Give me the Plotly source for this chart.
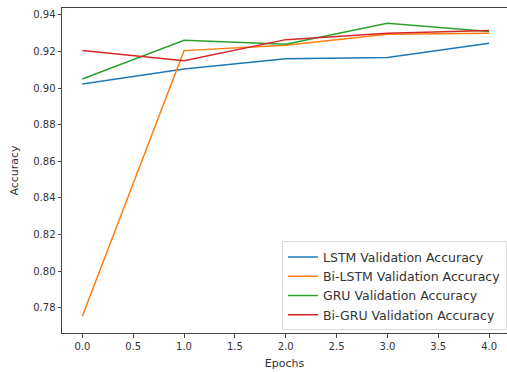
import plotly.graph_objects as go

epochs = [0, 1, 2, 3, 4]
lstm = [0.9023, 0.9105, 0.9160, 0.9167, 0.9245]
bilstm = [0.7753, 0.9205, 0.9235, 0.9295, 0.9300]
gru = [0.9050, 0.9262, 0.9240, 0.9355, 0.9310]
bigru = [0.9205, 0.9150, 0.9265, 0.9300, 0.9315]

names = ["LSTM Validation Accuracy", "Bi-LSTM Validation Accuracy",
         "GRU Validation Accuracy", "Bi-GRU Validation Accuracy"]
series = [lstm, bilstm, gru, bigru]
colors = ["#1f77b4", "#ff7f0e", "#2ca02c", "#d62728"]

x_ticks = [0.0, 0.5, 1.0, 1.5, 2.0, 2.5, 3.0, 3.5, 4.0]
y_ticks = [0.78, 0.80, 0.82, 0.84, 0.86, 0.88, 0.90, 0.92, 0.94]

fig = go.Figure()
for n, s, c in zip(names, series, colors):
    fig.add_trace(go.Scatter(x=epochs, y=s, mode="lines", name=n,
                             line=dict(color=c, width=1.5)))

fnt = dict(family="DejaVu Sans", size=10, color="#333333")
tfnt = dict(family="DejaVu Sans", size=11, color="#333333")
fig.update_layout(
    width=507, height=372,
    margin=dict(l=62, r=0, t=8, b=39),
    paper_bgcolor="white", plot_bgcolor="white",
    font=fnt,
    showlegend=True,
    legend=dict(x=1.0, y=0.008, xanchor="right", yanchor="bottom",
                bgcolor="rgba(255,255,255,0.8)", bordercolor="#dddddd",
                borderwidth=1, font=dict(family="DejaVu Sans", size=12.5, color="#333333"),
                tracegroupgap=0, itemwidth=30),
    xaxis=dict(range=[-0.2, 4.176], tickvals=x_ticks,
               ticktext=[f"{v:.1f}" for v in x_ticks],
               showgrid=False, zeroline=False, showline=True, linecolor="#444444",
               linewidth=1, mirror=True, ticks="outside", ticklen=3.5, tickcolor="#444444",
               title=dict(text="Epochs", font=tfnt, standoff=8)),
    yaxis=dict(range=[0.7661, 0.9438], tickvals=y_ticks,
               ticktext=[f"{v:.2f}" for v in y_ticks],
               showgrid=False, zeroline=False, showline=True, linecolor="#444444",
               linewidth=1, mirror=False, ticks="outside", ticklen=3.5, tickcolor="#444444",
               title=dict(text="Accuracy", font=tfnt, standoff=12)),
)
fig.write_html("out.html")
